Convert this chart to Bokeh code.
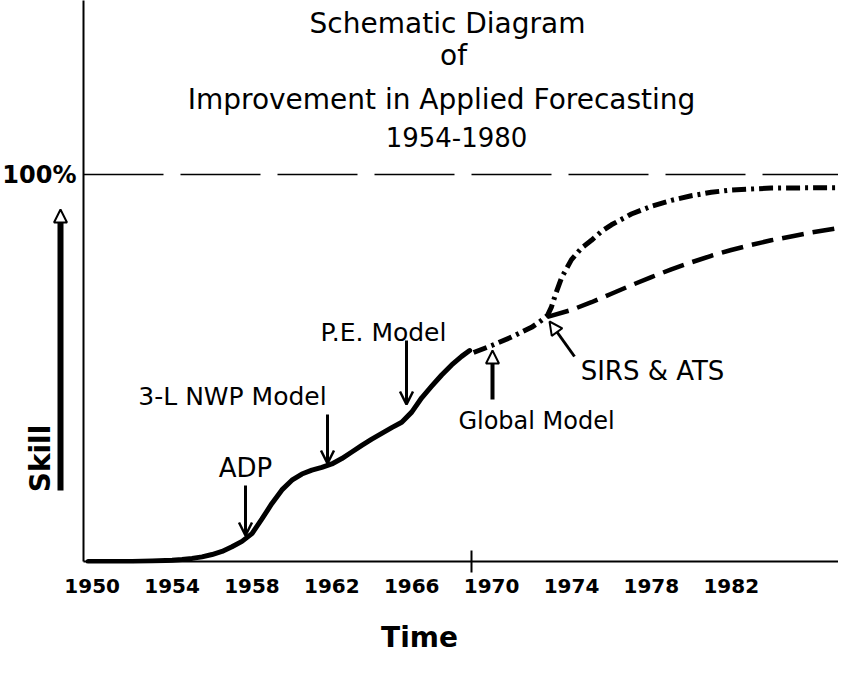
import numpy as np
from bokeh.plotting import figure
from bokeh.models import Range1d, FixedTicker, Arrow, OpenHead, NormalHead
from bokeh.core.properties import value
from bokeh.embed import file_html
from bokeh.resources import INLINE

# ---------------- data ----------------
nwp_years = [1949.8, 1951.0, 1952.0, 1953.0, 1954.0, 1954.5, 1955.0, 1955.5, 1956.0,
             1956.5, 1957.0, 1957.5, 1958.0, 1958.5, 1959.0, 1959.5, 1960.0, 1960.5,
             1961.0, 1961.5, 1962.0, 1962.5, 1963.0, 1963.5, 1964.0, 1964.5, 1965.0,
             1965.5, 1966.0, 1966.5, 1967.0, 1967.5, 1968.0, 1968.5, 1968.9]
nwp_skill = [0.0, 0.0, 0.0, 0.1, 0.3, 0.5, 0.8, 1.2, 1.8, 2.6, 3.8, 5.2, 7.2, 11.0,
             15.0, 18.5, 21.0, 22.6, 23.6, 24.3, 25.2, 26.6, 28.3, 30.0, 31.6, 33.1,
             34.6, 36.0, 38.6, 42.3, 45.3, 48.2, 50.8, 53.0, 54.5]

upper_years = [1969.1, 1970.0, 1971.0, 1972.0, 1972.5, 1972.8, 1973.0, 1973.2, 1973.5,
               1974.0, 1974.5, 1975.0, 1975.5, 1976.0, 1977.0, 1978.0, 1979.0, 1980.0,
               1981.0, 1982.0, 1984.0, 1987.4]
upper_skill = [54.0, 55.8, 58.0, 60.5, 62.3, 63.6, 65.8, 69.0, 73.3, 78.0, 81.0, 83.0,
               85.3, 87.0, 89.8, 91.8, 93.3, 94.5, 95.4, 96.0, 96.5, 96.6]

lower_years = [1972.8, 1974.0, 1975.0, 1976.0, 1977.0, 1978.0, 1979.0, 1980.0, 1981.0,
               1982.0, 1983.0, 1984.0, 1985.0, 1986.0, 1987.4]
lower_skill = [63.2, 65.0, 67.0, 69.2, 71.4, 73.5, 75.5, 77.3, 79.0, 80.5, 81.8, 83.0,
               84.0, 85.0, 86.2]

tick_years = [1950, 1954, 1958, 1962, 1966, 1970, 1974, 1978, 1982]
break_year = 1969
full_skill = 100

title_lines = ["Schematic Diagram", "of", "Improvement in Applied Forecasting", "1954-1980"]
event_labels = ["ADP", "3-L NWP Model", "P.E. Model", "Global Model", "SIRS & ATS"]
x_title = "Time"
y_title = "Skill"

# ---------------- layout helpers (reference pixel -> data) ----------------
def px2x(px):
    return 1950 + (px - 99.7) / 19.97

def py2y(py):
    return (569 - py) / 3.87

FONT = value("DejaVu Sans")

p = figure(width=838, height=657, output_backend="svg", toolbar_location=None,
           x_range=Range1d(px2x(8), px2x(846)), y_range=Range1d(py2y(571), py2y(8)),
           y_axis_location=None, min_border_left=0, min_border_right=0,
           min_border_top=0, min_border_bottom=94)
p.outline_line_color = None
p.grid.visible = False
p.background_fill_color = "white"
p.border_fill_color = "white"

# bottom axis: labels + single tick at the break
ax = p.xaxis[0]
ax.ticker = FixedTicker(ticks=tick_years, minor_ticks=[break_year])
ax.axis_line_color = None
ax.major_tick_in = 0
ax.major_tick_out = 0
ax.minor_tick_in = 13
ax.minor_tick_out = 9
ax.minor_tick_line_width = 2
ax.minor_tick_line_color = "black"
ax.major_label_text_font = "DejaVu Sans"
ax.major_label_text_font_size = "20px"
ax.major_label_text_font_style = "bold"
ax.major_label_text_color = "black"
ax.major_label_standoff = 6
ax.axis_label = x_title
ax.axis_label_text_font = "DejaVu Sans"
ax.axis_label_text_font_size = "28px"
ax.axis_label_text_font_style = "bold"
ax.axis_label_text_color = "black"
ax.axis_label_standoff = 25

# axis lines
x_axis_left = px2x(91)
p.segment(x0=[x_axis_left], y0=[0], x1=[x_axis_left], y1=[py2y(4)], line_color="black", line_width=2)
p.segment(x0=[x_axis_left], y0=[0], x1=[px2x(846)], y1=[0], line_color="black", line_width=2)

# 100% line
p.segment(x0=[x_axis_left], y0=[full_skill], x1=[px2x(846)], y1=[full_skill],
          line_color="black", line_width=1.6, line_dash="80 17")

# curves
p.line(nwp_years, nwp_skill, line_color="black", line_width=5, line_cap="round", line_join="round")
p.line(upper_years, upper_skill, line_color="black", line_width=5, line_dash="14 5 3 5",
       line_join="round")
p.line(lower_years, lower_skill, line_color="black", line_width=4.5, line_dash="22 9",
       line_join="round")

# title
title_pos = [(455, 31), (461, 63), (449, 107), (464, 144)]
title_size = ["28px", "28px", "28px", "26px"]
for txt, (tx, ty), fs in zip(title_lines, title_pos, title_size):
    p.text(x=[px2x(tx)], y=[py2y(ty)], text=[txt], text_font=FONT, text_font_size=fs,
           text_align="center", text_baseline="middle", text_color="black")

# 100% label and Skill label
p.text(x=[px2x(84)], y=[full_skill], text=["100%"], text_font=FONT, text_font_size="24px",
       text_font_style="bold", text_align="right", text_baseline="middle", text_color="black")
p.text(x=[px2x(48)], y=[py2y(466)], text=[y_title], text_font=FONT, text_font_size="28px",
       text_font_style="bold", angle=np.pi / 2, text_align="center", text_baseline="middle",
       text_color="black")

# event labels
label_pos = [(253, 475), (240, 404), (391, 340), (544, 428), (660, 378)]
label_size = ["26px", "25px", "25px", "24px", "26px"]
for txt, (tx, ty), fs in zip(event_labels, label_pos, label_size):
    p.text(x=[px2x(tx)], y=[py2y(ty)], text=[txt], text_font=FONT, text_font_size=fs,
           text_align="center", text_baseline="middle", text_color="black")

# arrows (start pixel, end pixel, head type, width)
arrows = [
    ((253, 493), (253, 543), "open", 3),
    ((335, 422), (335, 471), "open", 3),
    ((414, 348), (414, 412), "open", 3),
    ((500, 407), (500, 358), "normal", 4),
    ((582, 364), (557, 329), "normal", 3),
    ((68, 498), (68, 217), "normal", 6),
]
for (sx, sy), (ex, ey), kind, lw in arrows:
    if kind == "open":
        head = OpenHead(size=13, line_width=2.5, line_color="black")
    else:
        head = NormalHead(size=13, line_width=2, line_color="black", fill_color="white")
    p.add_layout(Arrow(end=head, x_start=px2x(sx), y_start=py2y(sy), x_end=px2x(ex),
                       y_end=py2y(ey), line_width=lw, line_color="black"))

open("out.html", "w").write(file_html(p, INLINE))
